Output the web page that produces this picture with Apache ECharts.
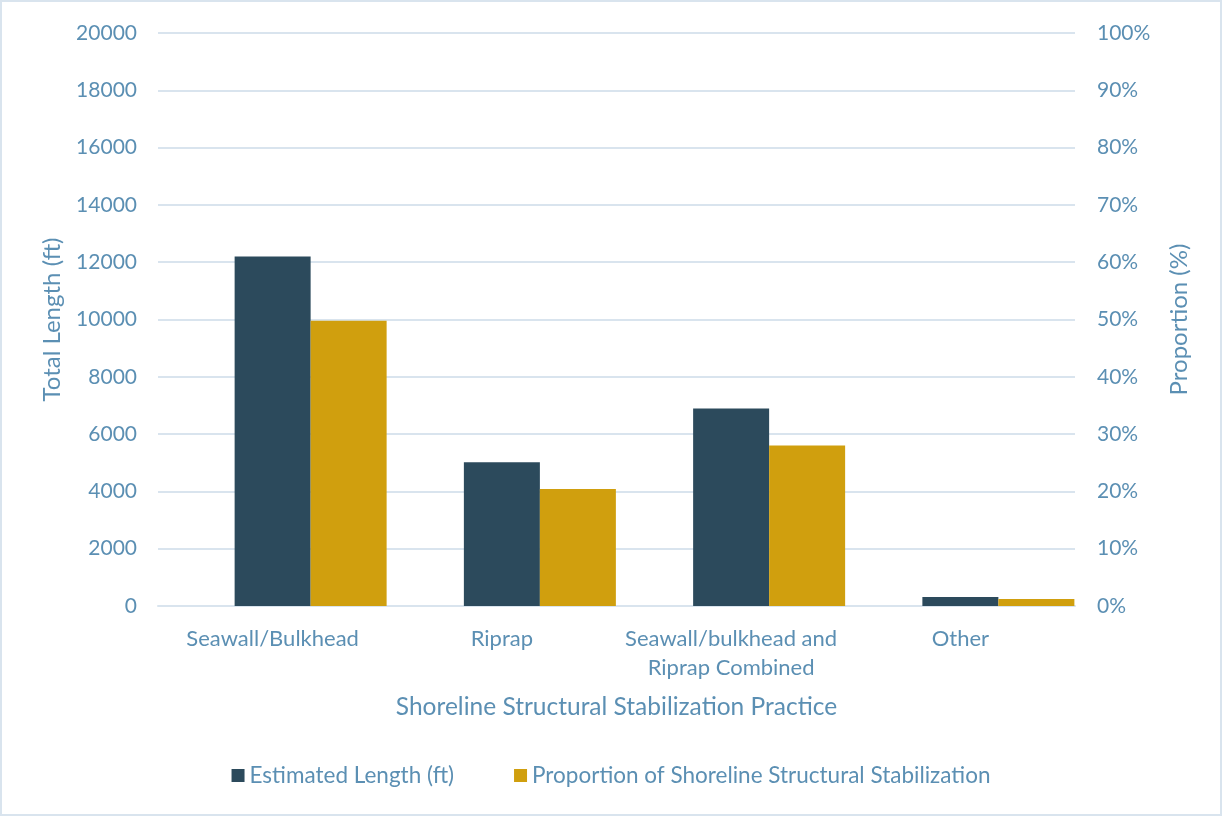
<!DOCTYPE html>
<html><head><meta charset="utf-8">
<script src="https://cdn.jsdelivr.net/npm/echarts@6/dist/echarts.min.js"></script>
<style>html,body{margin:0;padding:0;background:#fff}#c{width:1222px;height:816px;box-sizing:border-box;border:2px solid #D9E4EE}</style>
</head><body><div id="c"></div>
<script>
const categories = ['Seawall/Bulkhead', 'Riprap', 'Seawall/bulkhead and\nRiprap Combined', 'Other'];
const lengthFt = [12200, 5020, 6890, 310];
const proportionPct = [49.8, 20.4, 28.0, 1.2];
const spacer = [null, null, null, null];
const leftTicks = [0, 2000, 4000, 6000, 8000, 10000, 12000, 14000, 16000, 18000, 20000];
const rightTicks = [0, 10, 20, 30, 40, 50, 60, 70, 80, 90, 100];

const txt = '#5B8FB3';
const font = 'Lato, "Open Sans", sans-serif';
const chart = echarts.init(document.getElementById('c'));
chart.setOption({
  textStyle: {fontFamily: font},
  grid: {left: 156, right: 145, top: 31, bottom: 208},
  legend: {
    bottom: 22, left: 'center', itemWidth: 13, itemHeight: 13, itemGap: 60, icon: 'rect',
    textStyle: {color: txt, fontSize: 22.5, fontFamily: font},
    data: ['Estimated Length (ft)', 'Proportion of Shoreline Structural Stabilization']
  },
  xAxis: {
    type: 'category', data: categories,
    name: 'Shoreline Structural Stabilization Practice', nameLocation: 'middle', nameGap: 89,
    nameTextStyle: {color: txt, fontSize: 24.5, fontFamily: font},
    axisLine: {show: true, lineStyle: {color: '#D9E4EE', width: 2}},
    axisTick: {show: false},
    axisLabel: {color: txt, fontSize: 22, fontFamily: font, margin: 18, lineHeight: 29, interval: 0}
  },
  yAxis: [{
    type: 'value', min: 0, max: 20000, interval: 2000,
    name: 'Total Length (ft)', nameLocation: 'middle', nameGap: 94, nameRotate: 90,
    nameTextStyle: {color: txt, fontSize: 24, fontFamily: font},
    axisLabel: {color: txt, fontSize: 21, fontFamily: font, margin: 21,
      formatter: function (v) { return String(v); }},
    splitLine: {lineStyle: {color: '#D9E4EE', width: 2}},
    axisLine: {show: false}, axisTick: {show: false}
  }, {
    type: 'value', min: 0, max: 100, interval: 10,
    name: 'Proportion (%)', nameLocation: 'middle', nameGap: 92, nameRotate: 90,
    nameTextStyle: {color: txt, fontSize: 24, fontFamily: font},
    axisLabel: {color: txt, fontSize: 21, fontFamily: font, margin: 22, formatter: '{value}%'},
    splitLine: {show: false},
    axisLine: {show: false}, axisTick: {show: false}
  }],
  series: [{
    name: 'spacer', type: 'bar', yAxisIndex: 0, data: spacer,
    barWidth: 76, barGap: '0%', silent: true
  }, {
    name: 'Estimated Length (ft)', type: 'bar', yAxisIndex: 0, data: lengthFt,
    barWidth: 76, barGap: '0%',
    itemStyle: {color: '#2C4A5C'}
  }, {
    name: 'Proportion of Shoreline Structural Stabilization', type: 'bar', yAxisIndex: 1, data: proportionPct,
    barWidth: 76, barGap: '0%',
    itemStyle: {color: '#D09F0E'}
  }]
});
</script></body></html>
